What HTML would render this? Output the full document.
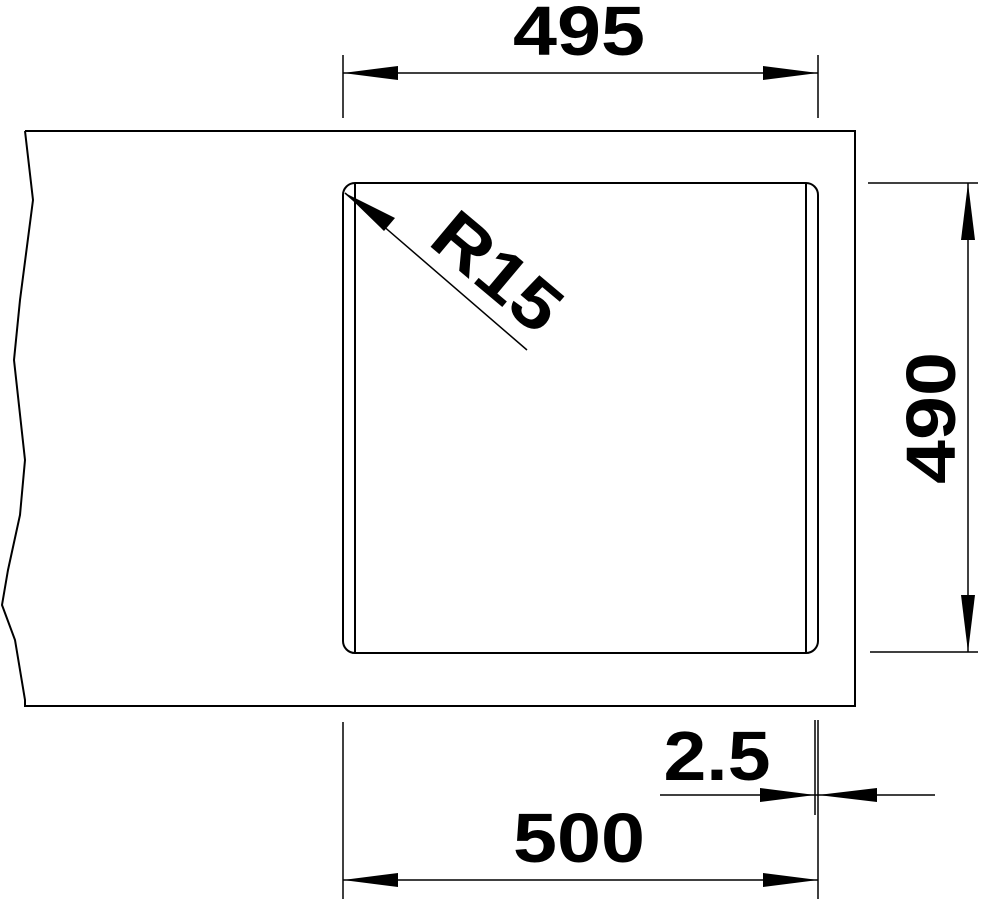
<!DOCTYPE html>
<html><head><style>html,body{margin:0;padding:0;background:#fff}svg{display:block}</style></head>
<body>
<svg width="990" height="899" viewBox="0 0 990 899" xmlns="http://www.w3.org/2000/svg" font-family="Liberation Sans, sans-serif" font-weight="bold">
<g fill="none" stroke="#000" stroke-width="2">
<polyline points="25,131 855,131 855,706 25,706 25,700 15,640 2,605 8,570 20,515 25,460 14,360 20,300 33,200 25,131"/>
<path d="M355,183 H806 A12,12 0 0 1 818,195 V641 A12,12 0 0 1 806,653 H355 A12,12 0 0 1 343,641 V195 A12,12 0 0 1 355,183 Z"/>
<line x1="355" y1="183" x2="355" y2="653"/>
<line x1="806" y1="183" x2="806" y2="653"/>
</g>
<g stroke="#000" stroke-width="1.5">
<line x1="343" y1="55" x2="343" y2="118"/><line x1="818" y1="55" x2="818" y2="118"/>
<line x1="343" y1="73" x2="818" y2="73"/>
<line x1="868" y1="183" x2="978" y2="183"/><line x1="870" y1="652" x2="978" y2="652"/>
<line x1="968" y1="183" x2="968" y2="652"/>
<line x1="343" y1="722" x2="343" y2="899"/><line x1="818" y1="720" x2="818" y2="899"/>
<line x1="343" y1="880" x2="818" y2="880"/>
<line x1="815" y1="720" x2="815" y2="815"/>
<line x1="660" y1="795" x2="935" y2="795"/>
<line x1="345" y1="193" x2="527" y2="350"/>
</g>
<g fill="#000">
<polygon points="343,73 398,66 398,80"/><polygon points="818,73 763,66 763,80"/>
<polygon points="968,183 961,240 975,240"/><polygon points="968,652 961,595 975,595"/>
<polygon points="343,880 398,873 398,887"/><polygon points="818,880 763,873 763,887"/>
<polygon points="815,795 760,788 760,802"/><polygon points="818,795 877,788 877,802"/>
<polygon points="345,193 395,218 384,231"/>
</g>
<g font-size="70" text-anchor="middle" fill="#000">
<text transform="translate(579,55) scale(1.13,1)">495</text>
<text transform="translate(579,862) scale(1.13,1)">500</text>
<text transform="translate(717,780) scale(1.1,1)">2.5</text>
<text transform="translate(955,418) rotate(-90) scale(1.13,1)">490</text>
<text transform="translate(482,290) rotate(40) scale(1.13,1)">R15</text>
</g>
</svg>
</body></html>
